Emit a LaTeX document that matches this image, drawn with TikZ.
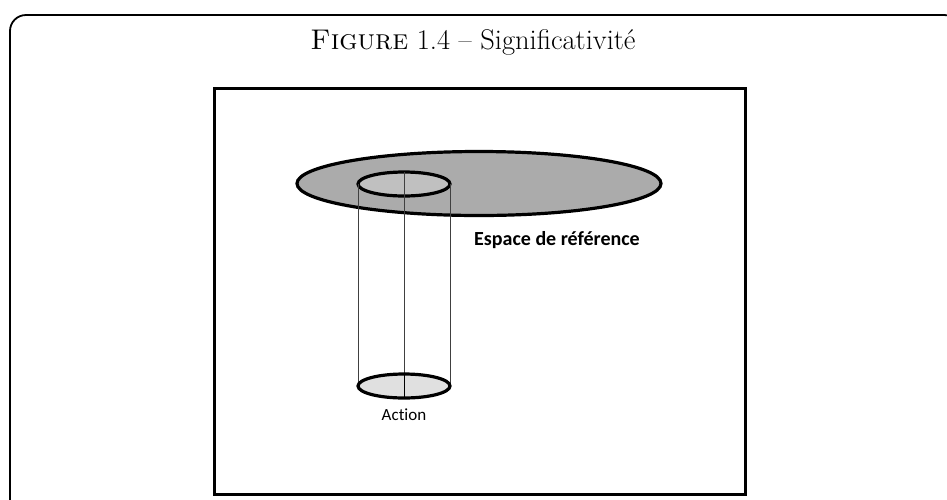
\documentclass[tikz,border=0pt]{standalone}
\usepackage{fontspec}
\newfontfamily\calib[Ligatures=NoCommon]{Carlito}
\begin{document}
\begin{tikzpicture}[x=1pt,y=-1pt,
  frame/.style={draw=black,line width=1.8pt,rounded corners=16pt},
  box/.style={draw=black,line width=3pt},
  ring/.style={draw=black,line width=3.2pt},
  thin/.style={draw=black!75,line width=0.9pt},
  lbl/.style={inner sep=0pt,font=\calib\fontsize{17}{20}\selectfont}]
\useasboundingbox (0,0) rectangle (947,499);
\draw[frame] (10,520) -- (10,15) -- (960,15) -- (960,520);
\node (title) at (473,42) {\fontsize{28.5}{32}\selectfont\textsc{Figure} 1.4 -- Significativité};
\draw[box] (214,88) rectangle (745,494);
\coordinate (bigc) at (479,183.5);
\draw[ring,fill={rgb,255:red,171;green,171;blue,171}] (bigc) ellipse [x radius=182, y radius=32];
\coordinate (topc) at (404,184);
\coordinate (botc) at (404,386);
\draw[ring,fill={rgb,255:red,192;green,192;blue,192}] (topc) ellipse [x radius=46, y radius=12];
\draw[thin] ([xshift=-46pt]topc) -- ([xshift=-46pt]botc);
\draw[thin] ([xshift=46pt]topc) -- ([xshift=46pt]botc);
\draw[thin] ([yshift=12pt]topc) -- ([yshift=12pt]botc);
\draw[ring,fill={rgb,255:red,224;green,224;blue,224}] (botc) ellipse [x radius=46, y radius=12];
\draw[thin,draw=black] ([yshift=-12pt]botc) -- ([yshift=12pt]botc);
\node[lbl,font=\calib\bfseries\fontsize{20}{22}\selectfont] (esp) at (557,240) {Espace de référence};
\node[lbl,font=\calib\fontsize{17}{19}\selectfont] (act) at (404,415) {Action};
\end{tikzpicture}
\end{document}
